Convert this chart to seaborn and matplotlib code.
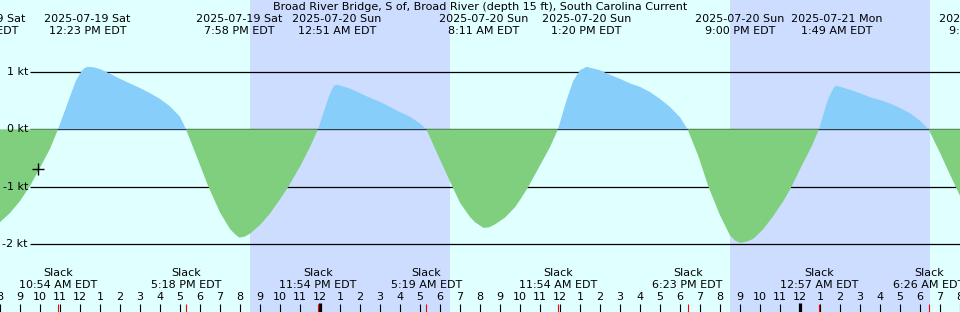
import matplotlib
matplotlib.use("Agg")
import matplotlib.pyplot as plt
import matplotlib.transforms as mtransforms
import numpy as np
import seaborn as sns

# ---------------- data (hours since 2025-07-19 08:00 EDT) ----------------
title = "Broad River Bridge, S of, Broad River (depth 15 ft), South Carolina Current"

hours = [0.0, 0.5, 1.0, 1.5, 2.0, 2.5, 2.9, 3.25, 3.55, 3.8, 4.05, 4.2, 4.37, 4.7, 5.0,
         5.5, 6.0, 6.5, 7.0, 7.5, 8.0, 8.5, 9.0, 9.3, 9.83, 10.42, 11.0, 11.5, 11.75, 11.97,
         12.25, 12.5, 13.0, 13.5, 14.0, 14.42, 15.0, 15.5, 15.9, 16.33, 16.45, 16.58, 16.7, 16.85,
         17.5, 18.0, 18.5, 19.0, 19.5, 20.0, 20.5, 21.0, 21.32, 22.0, 22.62, 23.0,
         23.5, 23.75, 24.0, 24.18, 24.45, 24.75, 25.25, 25.75, 26.08, 26.42, 27.0, 27.5, 27.9,
         28.33, 28.67, 29.0, 29.33, 30.0, 30.5, 31.0, 31.5, 32.0, 32.5, 33.0, 33.5,
         34.0, 34.38, 34.92, 35.42, 36.0, 36.5, 36.75, 37.0, 37.33, 37.67, 38.17, 38.67, 39.17,
         39.58, 40.08, 40.58, 40.95, 41.33, 41.45, 41.58, 41.7, 41.82, 42.5, 43.0, 43.5, 44.0,
         44.5, 45.0, 45.5, 46.0, 46.43, 47.0, 47.5, 48.0]
knots = [-1.62, -1.46, -1.25, -0.99, -0.67, -0.34, 0.0, 0.33, 0.62, 0.85, 1.0, 1.06, 1.09, 1.08, 1.05,
         0.97, 0.88, 0.80, 0.72, 0.63, 0.53, 0.40, 0.22, 0.0, -0.47, -1.0, -1.45, -1.74, -1.83, -1.89,
         -1.87, -1.82, -1.67, -1.47, -1.22, -1.0, -0.65, -0.31, 0.0, 0.45, 0.58, 0.68, 0.76, 0.78,
         0.71, 0.63, 0.55, 0.48, 0.39, 0.30, 0.22, 0.10, 0.0, -0.53, -1.0, -1.28,
         -1.53, -1.62, -1.68, -1.72, -1.71, -1.66, -1.54, -1.36, -1.19, -1.0, -0.63, -0.31, 0.0,
         0.51, 0.85, 1.03, 1.09, 1.03, 0.95, 0.88, 0.80, 0.74, 0.65, 0.53, 0.39,
         0.21, 0.0, -0.47, -1.0, -1.50, -1.85, -1.94, -1.98, -1.96, -1.91, -1.74, -1.51, -1.25,
         -1.0, -0.64, -0.30, 0.0, 0.45, 0.56, 0.65, 0.73, 0.76, 0.69, 0.63, 0.56, 0.51,
         0.45, 0.37, 0.28, 0.15, 0.0, -0.41, -0.79, -1.16]

event_hours = [-0.87, 4.383, 11.967, 16.85, 24.183, 29.333, 37.0, 41.817, 49.23]
event_dates = ["2025-07-19 Sat", "2025-07-19 Sat", "2025-07-19 Sat", "2025-07-20 Sun",
               "2025-07-20 Sun", "2025-07-20 Sun", "2025-07-20 Sun", "2025-07-21 Mon",
               "2025-07-21 Mon"]
event_times = ["7:08 AM EDT", "12:23 PM EDT", "7:58 PM EDT", "12:51 AM EDT",
               "8:11 AM EDT", "1:20 PM EDT", "9:00 PM EDT", "1:49 AM EDT", "9:14 AM EDT"]

slack_hours = [2.9, 9.3, 15.9, 21.317, 27.9, 34.383, 40.95, 46.433]
slack_times = ["10:54 AM EDT", "5:18 PM EDT", "11:54 PM EDT", "5:19 AM EDT",
               "11:54 AM EDT", "6:23 PM EDT", "12:57 AM EDT", "6:26 AM EDT"]

night_start = [12.5, 36.5]
night_end = [22.5, 46.5]

levels = [1, 0, -1, -2]
level_labels = ["1 kt", "0 kt", "-1 kt", "-2 kt"]

hour_ticks = list(range(49))
hour_labels = ["8", "9", "10", "11", "12",
               "1", "2", "3", "4", "5", "6", "7", "8", "9", "10", "11", "12",
               "1", "2", "3", "4", "5", "6", "7", "8", "9", "10", "11", "12",
               "1", "2", "3", "4", "5", "6", "7", "8", "9", "10", "11", "12",
               "1", "2", "3", "4", "5", "6", "7", "8"]
midnights = [16, 40]

marker_hour = [1.915]
marker_knots = [-0.70]

# ---------------- styling ----------------
sns.set_theme(style="white")
plt.rcParams["font.family"] = ["DejaVu Sans"]
plt.rcParams["text.color"] = "black"

BG = "#E0FFFF"
NIGHT = "#CCDDFF"
FLOOD = "#87CEFA"
EBB = "#7FCF7F"

W, H = 960, 312
fig = plt.figure(figsize=(9.6, 3.12), dpi=100)
fig.patch.set_facecolor(BG)
ax = fig.add_axes([0, 0, 1, 1])
ax.set_facecolor(BG)
ax.set_xlim(0, 48)
# pixel rows: 1 kt at y=72, -2 kt at y=244
ax.set_ylim((129.3 - H) / 57.33, 129.3 / 57.33)
ax.axis("off")

def fy(ypx):
    return 1 - ypx / H

blend = mtransforms.blended_transform_factory(ax.transData, ax.transAxes)

for s, e in zip(night_start, night_end):
    ax.axvspan(s, e, color=NIGHT, lw=0, zorder=1)

ax.hlines(levels, 1.5, 48, colors="black", lw=0.9, zorder=2)
for lv, lab in zip(levels, level_labels):
    ax.text(1.4, lv, lab, ha="right", va="center", fontsize=8, color="black", zorder=5)

h = np.array(hours)
k = np.array(knots)
ax.fill_between(h, k, 0, where=k >= 0, interpolate=True, color=FLOOD, lw=0, zorder=3)
ax.fill_between(h, k, 0, where=k <= 0, interpolate=True, color=EBB, lw=0, zorder=3)

sns.scatterplot(x=marker_hour, y=marker_knots, marker="+", s=70, color="black",
                linewidth=1.0, ax=ax, zorder=6, legend=False)

ax.text(24, fy(7), title, ha="center", va="center", fontsize=8, color="black", transform=blend)
for eh, d, t in zip(event_hours, event_dates, event_times):
    ax.text(eh, fy(19.5), d, ha="center", va="center", fontsize=8, color="black",
            transform=blend, clip_on=False)
    ax.text(eh, fy(31.5), t, ha="center", va="center", fontsize=8, color="black",
            transform=blend, clip_on=False)

for sh, st in zip(slack_hours, slack_times):
    ax.text(sh, fy(273.5), "Slack", ha="center", va="center", fontsize=8, color="black", transform=blend)
    ax.text(sh, fy(285.5), st, ha="center", va="center", fontsize=8, color="black", transform=blend)

for th, tl in zip(hour_ticks, hour_labels):
    ax.text(th, fy(297), tl, ha="center", va="center", fontsize=8, color="black", transform=blend)

ax.vlines(hour_ticks, 0, fy(304), colors="black", lw=0.8, transform=blend, zorder=4)
ax.vlines(midnights, 0, fy(303), colors="black", lw=2.3, transform=blend, zorder=4)
ax.vlines(slack_hours, 0, fy(304), colors="red", lw=0.8, transform=blend, zorder=5)

fig.savefig("out.png", dpi=100, facecolor=BG)
